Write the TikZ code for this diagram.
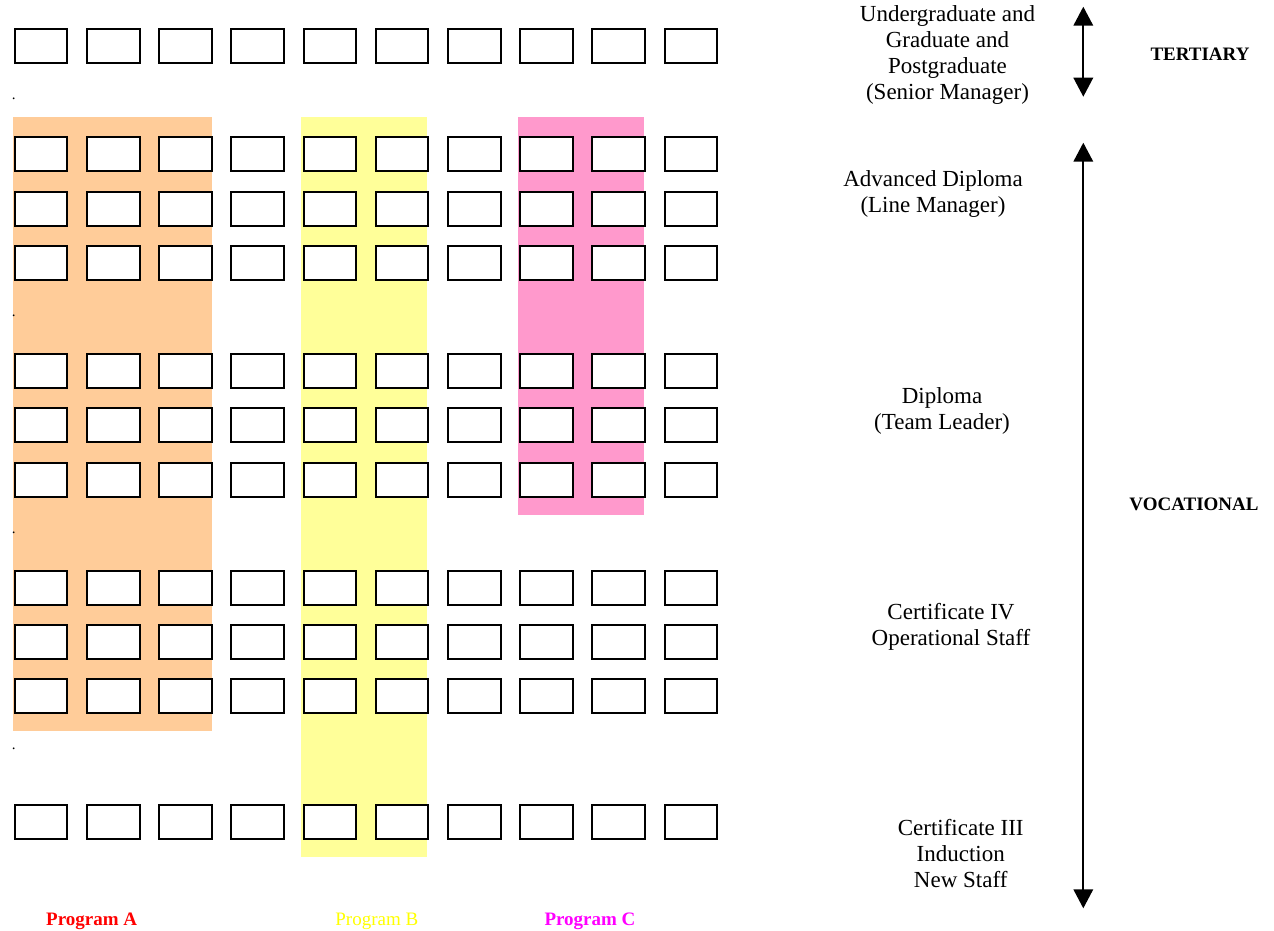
\documentclass[tikz,border=0pt]{standalone}
\usepackage{fontspec}
\setmainfont{Liberation Serif}
\usetikzlibrary{arrows.meta}

\definecolor{bandA}{HTML}{FFCC99}
\definecolor{bandB}{HTML}{FFFF99}
\definecolor{bandC}{HTML}{FF99CC}
\definecolor{labA}{HTML}{FF0000}
\definecolor{labB}{HTML}{FFFF00}
\definecolor{labC}{HTML}{FF00FF}

% stacked, centred lines whose reference point is the first baseline
\newcommand{\lvlstack}[1]{\begin{tabular}[t]{@{}c@{}}#1\end{tabular}}

\tikzset{
  unitbox/.style={draw=black, fill=white, line width=2pt, inner sep=0pt,
    minimum width=52.6pt, minimum height=34pt, anchor=north west},
  band/.style={draw=none},
  level/.style={anchor=base, inner sep=0pt,
    font=\fontsize{23}{26}\selectfont},
  sector/.style={anchor=base, inner sep=0pt,
    font=\fontsize{19}{22}\selectfont\bfseries},
  proglabel/.style={anchor=base, inner sep=0pt,
    font=\fontsize{19}{22}\selectfont},
  marker/.style={anchor=base west, inner sep=0pt,
    font=\fontsize{15}{17}\selectfont},
  span/.style={line width=2pt, {Triangle[width=19.5pt,length=19pt]}-{Triangle[width=19.5pt,length=19pt]}}
}

\begin{document}
\begin{tikzpicture}[x=1pt, y=-1pt]
  \useasboundingbox (0,0) rectangle (1274,930);
  \fill[white] (0,0) rectangle (1274,930);

  % program bands behind the grid
  \fill[band, bandA] (13.3,117) rectangle (212,730.7);
  \fill[band, bandB] (301.3,117) rectangle (427.3,857.3);
  \fill[band, bandC] (517.7,117.3) rectangle (644.3,515);

  % grid of unit boxes: row index / top edge
  \foreach \r/\ytop in {0/27.3, 1/135.3, 2/189.5, 3/243.7, 4/352.1, 5/406.3,
                        6/460.5, 7/568.9, 8/623.1, 9/677.3, 10/803.3} {
    \foreach \c in {0,...,9} {
      \node[unitbox] (box-\r-\c) at ({12.7+72.2*\c+1}, {\ytop+1}) {};
    }
  }

  % small row markers
  \node[marker] (mk1) at (11.6,99.5) {.};
  \node[marker] (mk2) at (11.6,316.5) {.};
  \node[marker] (mk3) at (11.6,533.5) {.};
  \node[marker] (mk4) at (11.6,749.5) {.};

  % qualification levels
  \node[level] (lvl-ug)   at (947.5,21.5) {\lvlstack{Undergraduate and\\Graduate and\\Postgraduate\\(Senior Manager)}};
  \node[level] (lvl-adv)  at (933,186.5)  {\lvlstack{Advanced Diploma\\(Line Manager)}};
  \node[level] (lvl-dip)  at (942,403.5)  {\lvlstack{Diploma\\(Team Leader)}};
  \node[level] (lvl-c4)   at (951,619.5)  {\lvlstack{Certificate IV\\Operational Staff}};
  \node[level] (lvl-c3)   at (960.7,835.5) {\lvlstack{Certificate III\\Induction\\New Staff}};

  % sector spans
  \coordinate (tert-top) at (1083.3,6.7);
  \coordinate (tert-bot) at (1083.3,96.7);
  \coordinate (voc-top)  at (1083.3,142.7);
  \coordinate (voc-bot)  at (1083.3,908.3);
  \draw[span] (tert-top) -- (tert-bot);
  \draw[span] (voc-top) -- (voc-bot);

  \node[sector] (sec-tert) at (1200,60)  {TERTIARY};
  \node[sector] (sec-voc)  at (1194,510) {VOCATIONAL};

  % program names
  \node[sector, text=labA]    (prog-a) at (91.7,925)  {Program A};
  \node[proglabel, text=labB] (prog-b) at (376.8,925) {Program B};
  \node[sector, text=labC]    (prog-c) at (590,925)   {Program C};
\end{tikzpicture}
\end{document}
